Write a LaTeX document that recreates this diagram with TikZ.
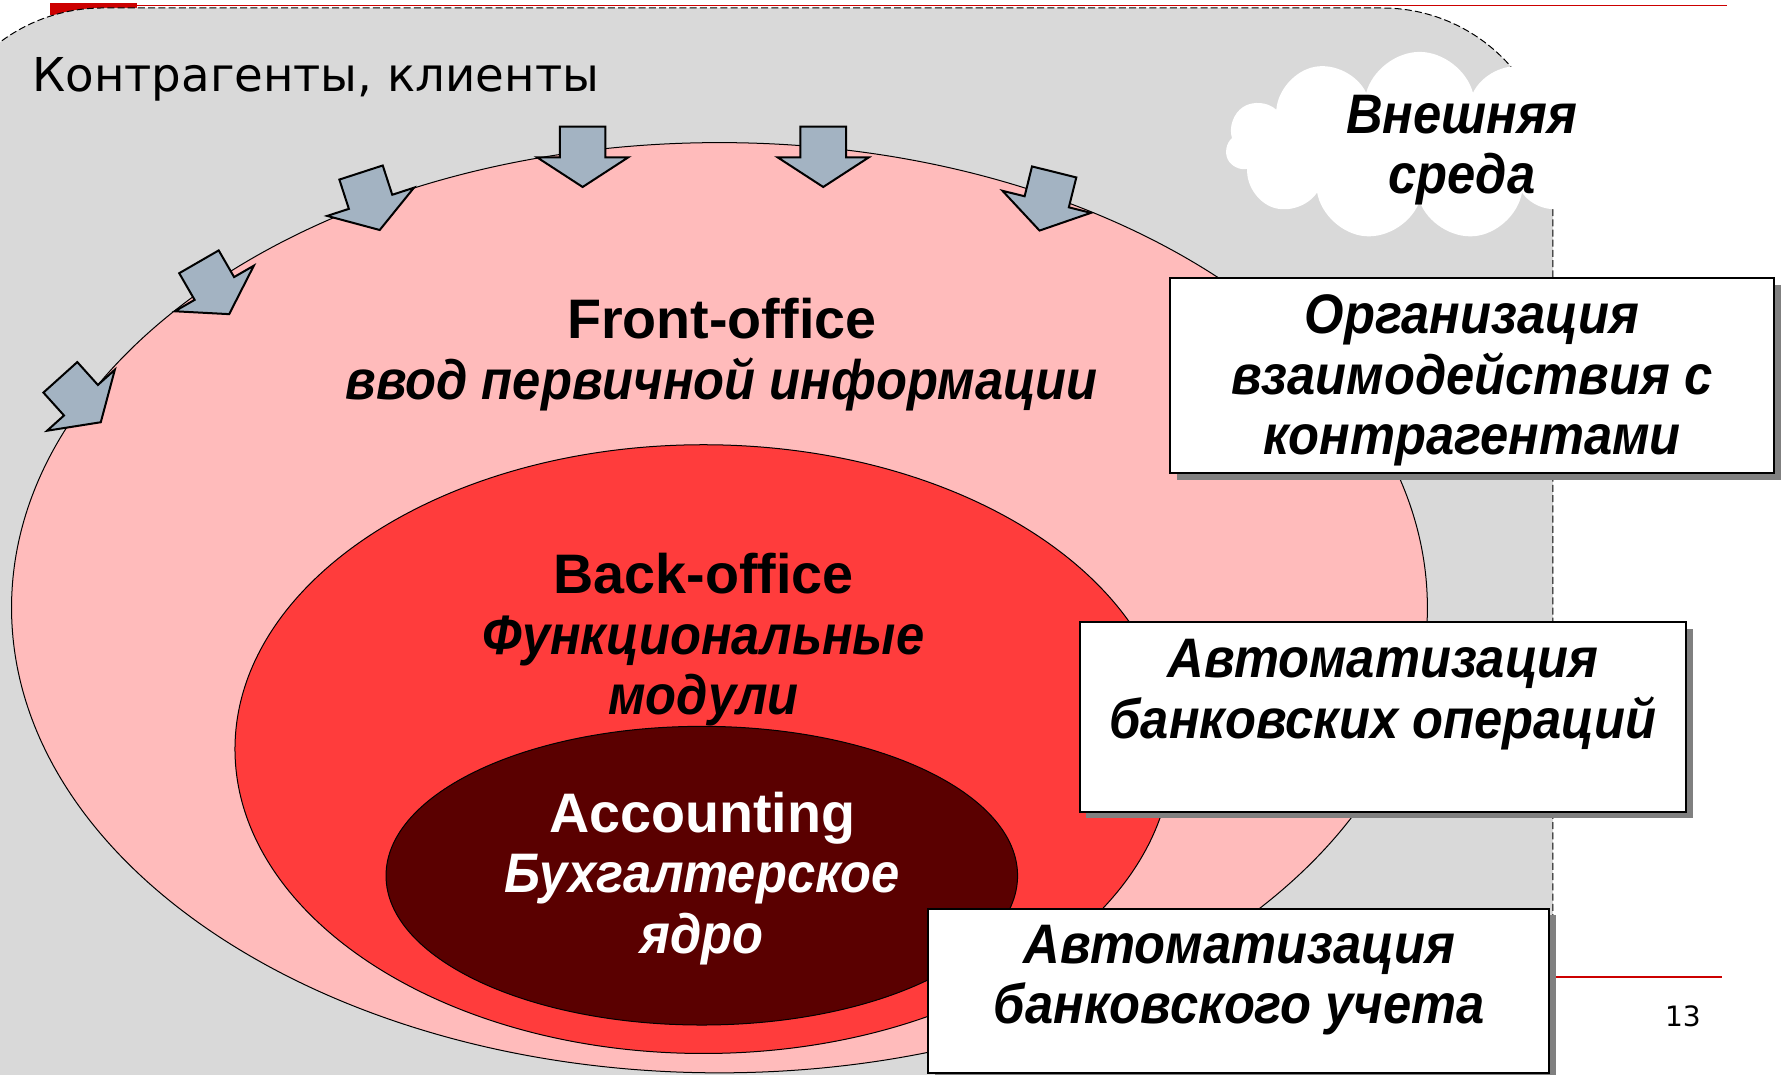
\documentclass[tikz,border=0pt]{standalone}
\usepackage{fontspec}
\setmainfont{Liberation Sans}
\newfontfamily\kontrfont{DejaVu Sans}
\usepackage{graphicx}
\usepackage{tikz}
\usepackage{xcolor}
\usetikzlibrary{shapes.geometric}
\usetikzlibrary{shapes.symbols}
\usetikzlibrary{shadows}

\definecolor{fonGray}{RGB}{217,217,217}
\definecolor{frontPink}{RGB}{255,187,187}
\definecolor{backRed}{RGB}{255,60,60}
\definecolor{coreDark}{RGB}{90,0,0}
\definecolor{pfeilBlue}{RGB}{163,179,194}
\definecolor{folieRed}{RGB}{204,0,0}

\newcommand{\schmal}[1]{\scalebox{0.91}[1]{\itshape #1}}

\tikzset{
	oval/.style={ellipse, draw=black, line width=0.5pt, inner sep=0pt},
	titel/.style={align=center, inner sep=0pt, font=\fontsize{27.8}{30.2}\selectfont\bfseries},
	infobox/.style={draw=black, fill=white, line width=1pt, inner sep=0pt, anchor=north west,
		drop shadow={shadow xshift=3.4pt, shadow yshift=-3.4pt, fill=black!50, opacity=1}}
}

\begin{document}
\begin{tikzpicture}[x=0.02cm, y=-0.02cm]
			\useasboundingbox (0,0) rectangle (1562,942);
			\fill[white] (0,0) rectangle (1562,942);
			\fill[folieRed] (44,3) rectangle (120,13);
			\draw[folieRed, line width=0.8pt] (44,5) -- (1515,5);
			\draw[folieRed, line width=0.8pt] (44,857) -- (1510,857);
			\filldraw[fill=fonGray, draw=black, line width=0.5pt, dash pattern=on 3.5pt off 1.6pt, rounded corners=3cm]
				(-60,1100) -- (-60,7) -- (1362,7) -- (1362,1100);
			\node[cloud, cloud puffs=11, fill=white, minimum width=6.8cm, minimum height=3.3cm, inner sep=0pt] (wolke) at (1245,128) {};
			\node[titel, anchor=base] (wolketext) at (1282,170) {\schmal{Внешняя}\\\schmal{среда}};
			\node[oval, fill=frontPink, minimum width=24.84cm, minimum height=16.32cm] (front) at (631,533) {};
			\node[oval, fill=backRed, minimum width=16.44cm, minimum height=10.68cm] (back) at (617,657) {};
			\node[oval, fill=coreDark, minimum width=11.08cm, minimum height=5.24cm] (core) at (615.5,768) {};
			\foreach \px/\py/\winkel in {71/351/-48, 188/253/-60, 325/177/-72, 511/138/-90, 722/138/-90, 918/177/-104}{
				\filldraw[fill=pfeilBlue, draw=black, line width=1pt, shift={(\px,\py)}, rotate=\winkel]
					(-27,-20) -- (0,-20) -- (0,-40) -- (26,0) -- (0,40) -- (0,20) -- (-27,20) -- cycle;
			}
			\node[titel, anchor=base] (fronttext) at (633,350) {Front-office\\\schmal{ввод первичной информации}};
			\node[titel, anchor=base] (backtext) at (617,627) {Back-office\\\schmal{Функциональные}\\\schmal{модули}};
			\node[titel, anchor=base, text=white] (coretext) at (616,836) {Accounting\\\schmal{Бухгалтерское}\\\schmal{ядро}};
			\node[infobox, minimum width=10.6cm, minimum height=3.42cm] (kontakt) at (1025,243) {};
			\node[titel, anchor=base] (kontakttext) at (1291,399) {\schmal{Организация}\\\schmal{взаимодействия с}\\\schmal{контрагентами}};
			\node[infobox, minimum width=10.64cm, minimum height=3.32cm] (operation) at (946,545) {};
			\node[titel, anchor=base] (operationtext) at (1213,647.5) {\schmal{Автоматизация}\\\schmal{банковских операций}};
			\node[infobox, minimum width=10.9cm, minimum height=2.88cm] (buchung) at (813,796) {};
			\node[titel, anchor=base] (buchungtext) at (1087,898) {\schmal{Автоматизация}\\\schmal{банковского учета}};
			\node[anchor=base west, inner sep=0pt, font=\kontrfont\fontsize{23.3}{28}\selectfont] (kunden) at (28,80) {Контрагенты, клиенты};
			\node[anchor=base, inner sep=0pt, font=\kontrfont\fontsize{14}{16}\selectfont] (seite) at (1476,900) {13};
		\end{tikzpicture}
\end{document}
